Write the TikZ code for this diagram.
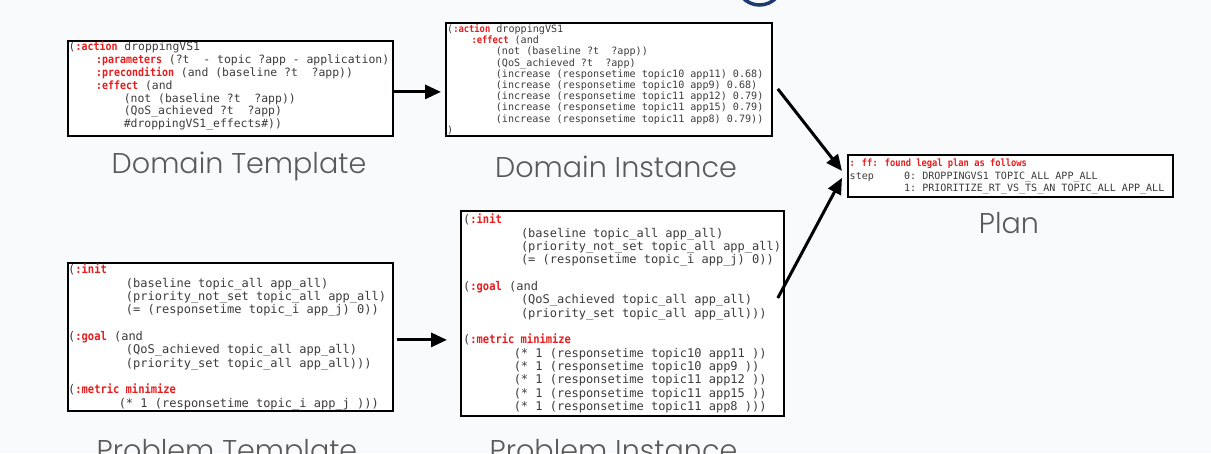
\documentclass[tikz,border=0pt]{standalone}
\usepackage{fontspec}
\setmainfont{Poppins}[UprightFont=* Light]
\setmonofont{DejaVu Sans Mono}
\newfontfamily\kwfont{DejaVu Sans Mono}[FakeStretch=0.87]
\usetikzlibrary{arrows.meta}

\definecolor{bg}{RGB}{249,250,252}
\definecolor{codegray}{RGB}{60,60,60}
\definecolor{kwred}{RGB}{232,28,28}
\definecolor{labelgray}{RGB}{90,90,90}
\definecolor{ringblue}{RGB}{28,58,110}

% PDDL keywords: bold red, slightly narrower than the code text
\newcommand\kw[1]{{\kwfont\bfseries\color{kwred}#1}}
\newcommand\codesize[2]{\ttfamily\fontsize{#1}{#2}\selectfont}

\tikzset{
  codebox/.style={draw=black, line width=1.8pt, fill=white, inner sep=0pt, anchor=north west},
  code/.style={anchor=north west, inner sep=0pt, align=left, text=codegray},
  caption/.style={anchor=base, text=labelgray, inner sep=0pt, font=\fontsize{28.6}{30}\selectfont},
  flow/.style={line width=3pt, -{Triangle[length=16pt,width=14pt]}},
}

\begin{document}
\begin{tikzpicture}[x=1pt,y=-1pt]
\useasboundingbox (0,0) rectangle (1211,453);
\fill[bg] (0,0) rectangle (1211,453);
\begin{scope}
  \clip (0,0) rectangle (1211,453);
  \draw[ringblue, line width=3.5pt] (759.5,-18) circle[radius=23pt];
\end{scope}

% ---- domain template ----
\node[codebox, minimum width=325pt, minimum height=95pt] (dt) at (67,40) {};
\node[code, font=\codesize{11.43}{12.8}] (dt-code) at (68.5,41.5) {%
(\kw{:action} droppingVS1\\
~~~~\kw{:parameters} (?t~~-~topic ?app~-~application)\\
~~~~\kw{:precondition} (and (baseline ?t~~?app))\\
~~~~\kw{:effect} (and\\
~~~~~~~~(not (baseline ?t~~?app))\\
~~~~~~~~(QoS\_achieved ?t~~?app)\\
~~~~~~~~\#droppingVS1\_effects\#))};
\node[caption] (dt-label) at (239,173) {Domain Template};

% ---- domain instance ----
\node[codebox, minimum width=326pt, minimum height=113pt] (di) at (445,22) {};
\node[code, font=\codesize{10.1}{11.2}] (di-code) at (447,24) {%
(\kw{:action} droppingVS1\\
~~~~\kw{:effect} (and\\
~~~~~~~~(not (baseline ?t~~?app))\\
~~~~~~~~(QoS\_achieved ?t~~?app)\\
~~~~~~~~(increase (responsetime topic10 app11) 0.68)\\
~~~~~~~~(increase (responsetime topic10 app9) 0.68)\\
~~~~~~~~(increase (responsetime topic11 app12) 0.79)\\
~~~~~~~~(increase (responsetime topic11 app15) 0.79)\\
~~~~~~~~(increase (responsetime topic11 app8) 0.79))\\
)};
\node[caption] (di-label) at (616,177) {Domain Instance};

% ---- plan ----
\node[codebox, minimum width=325pt, minimum height=42pt] (pl) at (847,154) {};
\node[code, font=\codesize{10.05}{12.5}] (pl-code) at (849.5,159) {%
\kw{: ff: found legal plan as follows}\\
step~~~~~0: DROPPINGVS1 TOPIC\_ALL APP\_ALL\\
~~~~~~~~~1: PRIORITIZE\_RT\_VS\_TS\_AN TOPIC\_ALL APP\_ALL};
\node[caption] (pl-label) at (1009,233) {Plan};

% ---- problem template ----
\node[codebox, minimum width=325pt, minimum height=148pt] (pt) at (67,262) {};
\node[code, font=\codesize{12}{13.33}] (pt-code) at (68,264) {%
(\kw{:init}\\
~~~~~~~~(baseline topic\_all app\_all)\\
~~~~~~~~(priority\_not\_set topic\_all app\_all)\\
~~~~~~~~(= (responsetime topic\_i app\_j) 0))\\
~\\
(\kw{:goal} (and\\
~~~~~~~~(QoS\_achieved topic\_all app\_all)\\
~~~~~~~~(priority\_set topic\_all app\_all)))\\
~\\
(\kw{:metric minimize}\\
~~~~~~~(* 1 (responsetime topic\_i app\_j )))};
\node[caption] (pt-label) at (227,460) {Problem Template};

% ---- problem instance ----
\node[codebox, minimum width=323pt, minimum height=205pt] (pi) at (460,210) {};
\node[code, font=\codesize{12}{13.33}] (pi-code) at (463,214) {%
(\kw{:init}\\
~~~~~~~~(baseline topic\_all app\_all)\\
~~~~~~~~(priority\_not\_set topic\_all app\_all)\\
~~~~~~~~(= (responsetime topic\_i app\_j) 0))\\
~\\
(\kw{:goal} (and\\
~~~~~~~~(QoS\_achieved topic\_all app\_all)\\
~~~~~~~~(priority\_set topic\_all app\_all)))\\
~\\
(\kw{:metric minimize}\\
~~~~~~~(* 1 (responsetime topic10 app11 ))\\
~~~~~~~(* 1 (responsetime topic10 app9 ))\\
~~~~~~~(* 1 (responsetime topic11 app12 ))\\
~~~~~~~(* 1 (responsetime topic11 app15 ))\\
~~~~~~~(* 1 (responsetime topic11 app8 )))};
\node[caption] (pi-label) at (613.5,460) {Problem Instance};

% ---- connectors ----
\draw[flow, shorten >=4pt] ([yshift=-3.5pt]dt.east) -- ([yshift=-3.5pt]dt.east -| di.west);
\draw[flow, shorten <=3pt, shorten >=13pt] ([yshift=-3pt]pt.east) -- ([yshift=-3pt]pt.east -| pi.west);
\draw[flow] ([shift={(5,9.5)}]di.east) -- ([shift={(-5,-5)}]pl.west);
\draw[flow] ([shift={(-7,88)}]pi.north east) -- ([shift={(-5,2)}]pl.west);
\end{tikzpicture}
\end{document}
